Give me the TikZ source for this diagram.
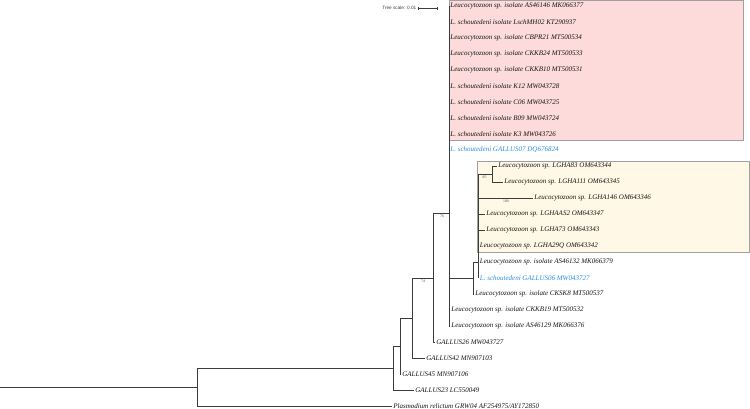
\documentclass[tikz,border=0pt]{standalone}
\usepackage{fontspec}
\setmainfont{Liberation Serif}
\newfontfamily\scalefont{Liberation Sans}
\definecolor{branch}{RGB}{60,60,60}
\definecolor{pinkbg}{RGB}{253,219,219}
\definecolor{yellowbg}{RGB}{255,248,230}
\definecolor{boxline}{RGB}{160,160,160}
\definecolor{bluetaxon}{RGB}{45,140,220}
\tikzset{
  leaf/.style={anchor=west,inner sep=1.2pt,font=\fontsize{7}{8}\selectfont\itshape,text=black!92},
  blueleaf/.style={leaf,text=bluetaxon},
  br/.style={draw=branch,line width=0.8pt},
  boot/.style={font=\fontsize{3.8}{4}\selectfont,text=black!70,inner sep=0pt},
  clade/.style={draw=boxline,line width=0.7pt}
}
\begin{document}
\begin{tikzpicture}[x=1pt,y=-1pt]
    \useasboundingbox (0,0) rectangle (750,409);
    % clade boxes
    \filldraw[clade,fill=pinkbg] (449,0.5) rectangle (743,140.5);
    \filldraw[clade,fill=yellowbg] (477.5,161) rectangle (749,252);
    % tree scale
    \coordinate (sbL) at (418,8.3);
    \coordinate (sbR) at (437,8.3);
    \node[anchor=east,inner sep=1.5pt,font=\scalefont\fontsize{4.7}{5}\selectfont,text=black!75] (scale) at (sbL) {Tree scale: 0.01};
    \draw[br,line width=0.4pt] (sbL) -- (sbR);
    \draw[br,line width=0.4pt] ([yshift=-1.5pt]sbL) -- ([yshift=1.5pt]sbL);
    \draw[br,line width=0.4pt] ([yshift=-1.5pt]sbR) -- ([yshift=1.5pt]sbR);
    % internal nodes
    \coordinate (start) at (0,387);
    \coordinate (nroot) at (197,387);
    \coordinate (nA) at (393,368);
    \coordinate (nB) at (400,346);
    \coordinate (nC) at (412,318);
    \coordinate (nD) at (433,278);
    \coordinate (n76) at (449,213);
    \coordinate (nS) at (473,278);
    \coordinate (nT) at (478.5,262);
    \coordinate (n85) at (492,174);
    % leaves
    \foreach \name/\y/\txt in {p1/6/Leucocytozoon sp. isolate AS46146 MK066377,
        p2/22/L. schoutedeni isolate LschMH02 KT290937,
        p3/38/Leucocytozoon sp. isolate CBPR21 MT500534,
        p4/54/Leucocytozoon sp. isolate CKKB24 MT500533,
        p5/70/Leucocytozoon sp. isolate CKKB10 MT500531,
        p6/86/L. schoutedeni isolate K12 MW043728,
        p7/102/L. schoutedeni isolate C06 MW043725,
        p8/118/L. schoutedeni isolate B09 MW043724,
        p9/134/L. schoutedeni isolate K3 MW043726}{
        \node[leaf] (\name) at (449,\y) {\txt};
        \draw[br] (n76) |- (\name.west);
    }
    \node[blueleaf] (g07) at (449,150) {L. schoutedeni GALLUS07 DQ676824};
    \node[leaf] (lgha83) at (497,166) {Leucocytozoon sp. LGHA83 OM643344};
    \node[leaf] (lgha111) at (503,182) {Leucocytozoon sp. LGHA111 OM643345};
    \node[leaf] (lgha146) at (533,198) {Leucocytozoon sp. LGHA146 OM643346};
    \node[leaf] (lghaas2) at (485,214) {Leucocytozoon sp. LGHAAS2 OM643347};
    \node[leaf] (lgha73) at (485,230) {Leucocytozoon sp. LGHA73 OM643343};
    \node[leaf] (lgha29q) at (478.5,246) {Leucocytozoon sp. LGHA29Q OM643342};
    \node[leaf] (as132) at (478.5,262) {Leucocytozoon sp. isolate AS46132 MK066379};
    \node[blueleaf] (g06) at (478.5,278) {L. schoutedeni GALLUS06 MW043727};
    \node[leaf] (cksk8) at (474,294) {Leucocytozoon sp. isolate CKSK8 MT500537};
    \node[leaf] (ckkb19) at (450,310) {Leucocytozoon sp. isolate CKKB19 MT500532};
    \node[leaf] (as129) at (450,326) {Leucocytozoon sp. isolate AS46129 MK066376};
    \node[leaf] (g26) at (435,342) {GALLUS26 MW043727};
    \node[leaf] (g42) at (425,358) {GALLUS42 MN907103};
    \node[leaf] (g45) at (401,374) {GALLUS45 MN907106};
    \node[leaf] (g23) at (414,390) {GALLUS23 LC550049};
    \node[leaf] (plas) at (392,406) {Plasmodium relictum GRW04 AF254975/AY172850};
    % branches
    \draw[br] (start) -- (nroot);
    \draw[br] (nroot) |- (nA);
    \draw[br] (nroot) |- (plas.west);
    \draw[br] (nA) |- (nB);
    \draw[br] (nA) |- (g23.west);
    \draw[br] (nB) |- (nC);
    \draw[br] (nB) |- (g45.west);
    \draw[br] (nC) |- (nD);
    \draw[br] (nC) |- (g42.west);
    \draw[br] (nD) |- (n76);
    \draw[br] (nD) |- (g26.west);
    \draw[br] (n76) |- (g07.west);
    \draw[br] (n76) |- (nS);
    \draw[br] (n76) |- (ckkb19.west);
    \draw[br] (n76) |- (as129.west);
    \draw[br] (nS) |- (nT);
    \draw[br] (nS) |- (cksk8.west);
    \foreach \kid in {n85,lgha146.west,lghaas2.west,lgha73.west,lgha29q.west,as132.west,g06.west}
        \draw[br] (nT) |- (\kid);
    \draw[br] (n85) |- (lgha83.west);
    \draw[br] (n85) |- (lgha111.west);
    % bootstrap values
    \node[boot] (b74) at (423,281.5) {74};
    \node[boot] (b76) at (442,216.5) {76};
    \node[boot] (b85) at (484.5,177.5) {85};
    \node[boot] (b100) at (506,201.5) {100};
\end{tikzpicture}
\end{document}
